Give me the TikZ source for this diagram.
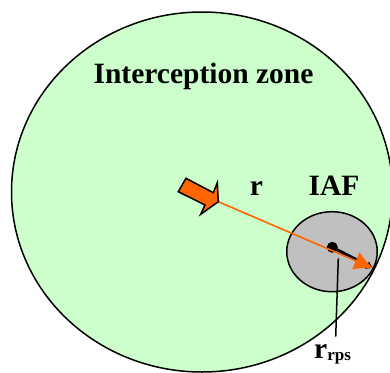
\documentclass[tikz,border=0pt]{standalone}
\usepackage{fontspec}
\setmainfont{Liberation Serif}
\usetikzlibrary{arrows.meta,positioning,shapes.geometric}
\definecolor{ZoneGreen}{RGB}{204,255,204}
\definecolor{IafGray}{RGB}{192,192,192}
\definecolor{RangeOrange}{RGB}{255,102,0}
\tikzset{
  zone/.style={draw=black,fill=ZoneGreen,ellipse,line width=1.5pt,inner sep=0pt,
    minimum width=381pt,minimum height=360pt},
  iaf/.style={draw=black,fill=IafGray,ellipse,line width=1.5pt,inner sep=0pt,
    minimum width=90.5pt,minimum height=80pt},
  pivot/.style={fill=black,circle,inner sep=0pt,minimum size=11pt},
  label/.style={font=\bfseries\fontsize{29.5}{30}\selectfont,inner sep=0pt,anchor=base},
  rpsarrow/.style={-{Latex[length=7pt,width=9pt]},line width=3pt,black},
  rangearrow/.style={-{Latex[length=19pt,width=19pt]},line width=1.6pt,RangeOrange},
  leader/.style={line width=1.5pt,black}
}
\begin{document}
\begin{tikzpicture}[x=1pt,y=-1pt]
  \useasboundingbox (0,0) rectangle (390,372);
  \begin{scope}
    \clip (0,0) rectangle (390,372);
    \node[zone] (zone) at (202,192) {};
  \end{scope}
  \node[iaf] (iaf) at (332,251.7) {};
  \node[pivot] (pivot) at (332.3,247.3) {};
  \coordinate (tip) at (373.3,268.3);
  \coordinate (tail) at (218.3,201.7);
  \coordinate (leaderend) at (335.7,336.7);
  \draw[rpsarrow] (pivot.center) -- (tip);
  \draw[rangearrow] (tail) -- (tip);
  \draw[leader] (338.3,258.3) -- (leaderend);
  % block arrow
  \draw[fill=RangeOrange,line width=1.5pt,line join=miter]
    (178.3,191.7) -- (186,178.3) -- (213.3,192.7) -- (217.3,182.7)
    -- (tail) -- (200.7,214.3) -- (205,205) -- cycle;
  \node[label] (zonelabel) at (203.5,83) {Interception zone};
  \node[label] (rlabel) at (256.5,195) {r};
  \node[label] (iaflabel) at (334,195) {IAF};
  \node[label,anchor=base west] (rpslabel) at (314,358.5)
    {r\raisebox{-2pt}{\fontsize{17}{17}\selectfont rps}};
\end{tikzpicture}
\end{document}
